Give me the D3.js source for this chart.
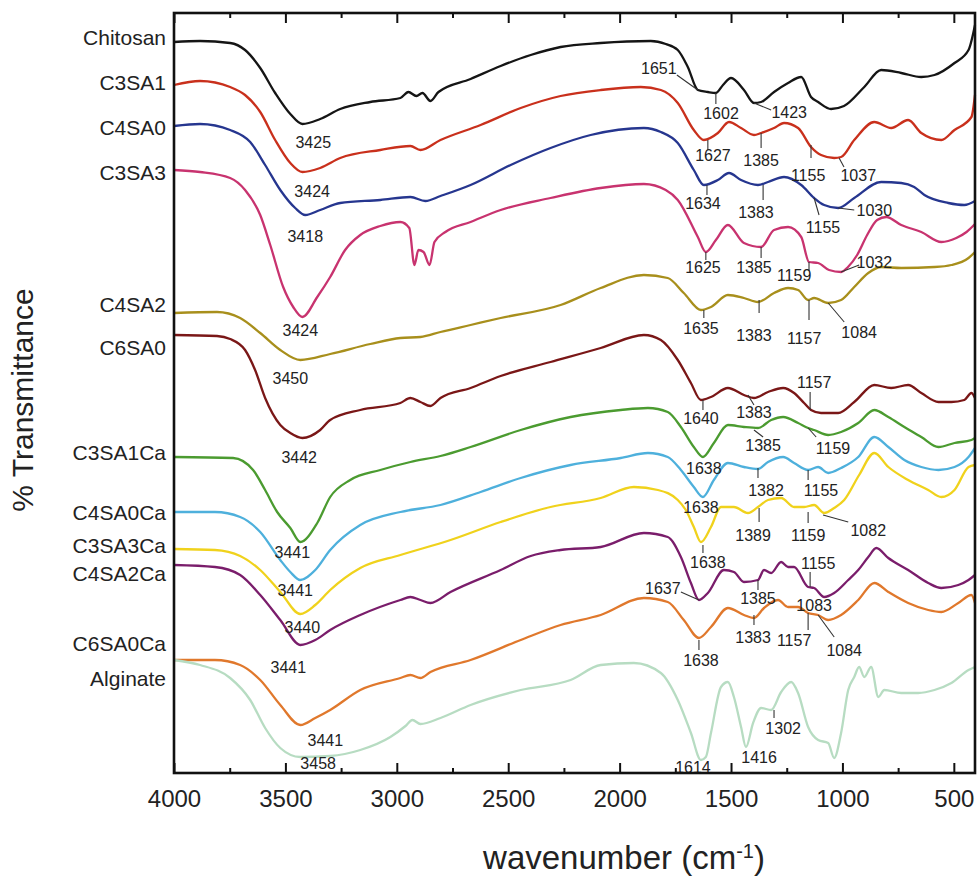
<!DOCTYPE html>
<html><head><meta charset="utf-8">
<script src="https://cdn.jsdelivr.net/npm/d3@7/dist/d3.min.js"></script>
<style>body{margin:0;background:#fff}svg{display:block}</style>
</head><body>
<svg id="chart" width="980" height="888"></svg>
<script>
// ---- data (wavenumber cm-1, % transmittance in offset plot units) ----
const seriesNames = ["Chitosan","C3SA1","C4SA0","C3SA3","C4SA2","C6SA0","C3SA1Ca","C4SA0Ca","C3SA3Ca","C4SA2Ca","C6SA0Ca","Alginate"];
const seriesColors = ["#151515","#c9301c","#26368f","#c8336f","#a88f1c","#7a1717","#4b9b30","#4eb0dc","#f0d21c","#7a1d6b","#e0782c","#b7dcc2"];
const labelLevels = [73.6,69.1,64.6,60.1,46.9,42.6,32.1,26.1,22.8,20.0,13.0,9.5];

const chitosan = [[4000,73.1],[3883,73.2],[3748,73.0],[3681,72.3],[3613,70.5],[3546,68.0],[3478,65.9],[3424,64.9],[3344,65.4],[3254,66.4],[3119,67.1],[2984,67.5],[2948,68.1],[2912,67.7],[2885,68.0],[2849,67.2],[2813,68.1],[2669,69.4],[2534,70.7],[2399,71.8],[2265,72.6],[2085,73.0],[1860,73.2],[1793,72.9],[1739,72.3],[1694,70.6],[1649,68.3],[1604,68.1],[1568,68.0],[1536,68.8],[1500,69.5],[1442,68.3],[1397,67.0],[1365,67.1],[1307,68.1],[1244,69.0],[1185,69.6],[1141,67.6],[1109,67.1],[1051,66.4],[993,66.7],[902,68.6],[826,70.3],[736,70.0],[646,69.6],[587,69.8],[497,71.0],[434,72.3],[405,74.8]];
const c3sa1 = [[4000,68.8],[3883,69.2],[3748,68.6],[3681,67.8],[3613,66.1],[3546,63.3],[3478,61.0],[3424,60.1],[3344,60.5],[3254,61.5],[3074,62.3],[2939,62.7],[2894,62.3],[2804,63.3],[2624,64.8],[2444,66.5],[2265,67.7],[2085,68.3],[1905,68.6],[1815,68.3],[1739,67.0],[1667,64.3],[1622,63.3],[1559,64.0],[1509,65.1],[1455,64.5],[1397,63.8],[1365,64.0],[1307,64.5],[1262,65.0],[1199,64.5],[1141,62.6],[1096,61.8],[1037,61.5],[1006,61.6],[947,63.3],[857,65.1],[781,64.5],[705,65.3],[646,64.0],[556,63.3],[497,64.3],[421,65.6],[405,67.8]];
const c4sa0 = [[4000,64.7],[3883,64.9],[3748,64.3],[3658,63.1],[3591,60.8],[3523,58.3],[3456,56.5],[3411,55.8],[3344,56.3],[3254,57.0],[3074,57.3],[2939,57.6],[2872,57.2],[2804,57.7],[2669,58.8],[2489,60.8],[2310,62.5],[2130,63.8],[1891,64.5],[1815,64.1],[1739,63.0],[1667,60.3],[1622,58.8],[1559,59.3],[1509,60.0],[1455,59.3],[1379,58.8],[1334,59.1],[1262,59.6],[1185,58.8],[1127,57.5],[1082,56.8],[1019,56.5],[947,57.5],[826,59.1],[736,59.0],[678,58.6],[632,57.8],[525,57.0],[453,56.8],[405,57.2]];
const c3sa3 = [[4000,60.3],[3883,60.1],[3748,59.5],[3681,58.3],[3613,55.8],[3568,52.8],[3510,48.6],[3465,46.6],[3424,45.6],[3357,47.6],[3299,49.6],[3232,52.3],[3164,53.8],[3074,54.7],[2984,55.1],[2944,54.5],[2921,50.8],[2903,52.3],[2880,52.1],[2853,50.8],[2831,53.1],[2782,54.1],[2669,55.1],[2534,56.3],[2310,57.5],[2085,58.5],[1891,58.9],[1793,58.3],[1739,57.3],[1649,53.6],[1613,52.1],[1568,53.3],[1514,54.8],[1442,53.0],[1365,52.6],[1307,54.3],[1244,54.6],[1185,53.6],[1150,51.1],[1109,51.0],[1060,50.3],[1006,50.1],[975,50.6],[934,51.8],[889,53.8],[844,55.3],[803,55.6],[736,54.8],[646,54.1],[556,53.1],[489,53.5],[443,54.1],[405,54.9]];
const c4sa2 = [[4000,46.0],[3807,46.1],[3703,45.5],[3613,44.0],[3523,42.3],[3433,41.3],[3299,41.9],[3119,42.9],[2984,43.5],[2894,43.6],[2804,44.1],[2669,44.8],[2534,45.5],[2265,46.8],[2085,48.5],[1891,49.8],[1784,49.5],[1712,48.0],[1635,46.3],[1590,46.6],[1514,47.8],[1442,47.5],[1379,47.1],[1307,48.0],[1244,48.5],[1199,48.3],[1154,47.3],[1127,47.5],[1064,47.0],[1006,47.3],[947,48.6],[884,50.0],[826,50.6],[736,50.5],[587,50.6],[511,50.8],[434,51.5],[405,52.1]];
const c6sa0 = [[4000,43.8],[3807,43.7],[3748,43.4],[3681,42.3],[3636,40.3],[3591,37.5],[3523,34.8],[3478,34.0],[3424,33.5],[3344,34.3],[3299,35.3],[3164,36.3],[2984,37.0],[2939,37.5],[2894,37.1],[2849,36.7],[2804,37.5],[2669,38.5],[2534,39.7],[2310,41.1],[2085,42.5],[1891,43.8],[1815,43.3],[1739,41.3],[1680,39.0],[1635,37.3],[1590,37.6],[1514,38.5],[1442,37.8],[1397,37.5],[1334,38.1],[1266,38.5],[1217,38.0],[1172,37.0],[1141,36.3],[1096,36.0],[1019,36.0],[947,37.1],[857,38.8],[781,38.5],[705,38.8],[646,38.0],[569,37.1],[511,37.1],[453,37.3],[421,38.0],[405,37.5]];
const c3sa1ca = [[4000,31.6],[3735,31.5],[3645,30.3],[3591,28.3],[3537,26.1],[3478,24.5],[3433,23.1],[3357,25.0],[3299,27.6],[3209,29.3],[3074,30.3],[2939,31.1],[2804,31.7],[2669,32.6],[2444,34.3],[2220,35.6],[1995,36.3],[1873,36.5],[1784,36.1],[1725,34.6],[1667,32.6],[1626,31.6],[1577,33.0],[1514,34.8],[1442,34.6],[1379,34.5],[1320,35.3],[1266,35.6],[1199,35.0],[1154,34.5],[1127,34.3],[1064,33.8],[1006,34.1],[929,35.0],[857,36.3],[794,35.6],[722,34.6],[646,33.6],[569,32.6],[497,33.0],[421,33.3],[405,33.5]];
const c4sa0ca = [[4000,26.1],[3816,26.1],[3703,25.6],[3613,24.1],[3523,21.3],[3478,20.1],[3433,19.3],[3366,20.3],[3299,22.3],[3164,24.8],[2984,26.1],[2804,26.8],[2624,28.1],[2444,29.5],[2220,30.8],[1995,31.5],[1873,32.0],[1784,31.6],[1725,30.3],[1667,28.6],[1626,27.6],[1577,29.3],[1514,31.0],[1442,30.6],[1379,30.4],[1334,31.1],[1266,31.6],[1217,31.0],[1154,30.3],[1109,30.6],[1064,30.0],[1006,30.5],[929,31.6],[857,33.6],[794,32.6],[722,31.3],[646,30.6],[569,30.3],[497,30.6],[434,31.6],[405,32.5]];
const c3sa3ca = [[4000,22.4],[3816,22.3],[3703,21.7],[3613,20.3],[3523,18.1],[3433,15.9],[3366,16.8],[3299,18.3],[3164,20.5],[2984,21.8],[2759,23.3],[2534,25.1],[2310,26.6],[2085,27.5],[1936,28.6],[1828,28.3],[1739,27.3],[1703,26.3],[1667,24.6],[1635,23.1],[1590,24.6],[1545,26.6],[1487,26.6],[1424,26.0],[1379,26.6],[1334,27.3],[1275,27.5],[1217,26.6],[1172,26.6],[1127,26.8],[1082,26.0],[1037,26.5],[992,27.3],[925,29.8],[857,32.0],[794,30.6],[705,29.3],[615,28.3],[556,27.6],[497,28.3],[434,30.6],[405,30.8]];
const c4sa2ca = [[4000,20.8],[3816,20.6],[3703,19.8],[3613,17.8],[3523,15.3],[3433,12.8],[3366,13.3],[3299,14.3],[3164,15.8],[2984,17.3],[2939,17.6],[2894,17.3],[2849,17.0],[2759,18.1],[2534,20.3],[2399,21.7],[2265,22.3],[2085,22.6],[1891,24.0],[1784,23.6],[1725,21.6],[1680,19.0],[1644,17.3],[1604,18.0],[1532,20.3],[1487,20.1],[1442,19.1],[1379,19.3],[1352,20.3],[1320,20.0],[1275,21.1],[1244,20.6],[1217,20.6],[1154,18.6],[1127,18.5],[1082,17.6],[1037,18.0],[974,19.3],[929,20.3],[884,21.6],[848,22.5],[794,21.5],[705,20.3],[615,19.0],[556,18.5],[480,18.8],[434,19.3],[405,19.8]];
const c6sa0ca = [[4000,11.3],[3816,11.3],[3703,10.8],[3613,9.3],[3523,6.8],[3433,4.8],[3366,5.5],[3299,6.3],[3164,8.3],[2984,9.5],[2939,9.8],[2894,9.5],[2849,10.1],[2669,11.3],[2444,13.3],[2265,14.8],[2085,15.8],[1891,17.5],[1784,17.1],[1712,15.3],[1644,13.5],[1590,14.6],[1514,16.5],[1442,15.8],[1397,15.5],[1352,16.5],[1289,17.3],[1244,16.6],[1199,16.6],[1154,16.0],[1109,15.8],[1064,15.3],[1006,15.8],[929,17.3],[857,19.0],[794,18.1],[705,17.0],[615,16.3],[556,16.1],[480,17.0],[421,17.8],[405,17.0]];
const alginate = [[4000,11.3],[3883,10.8],[3748,9.5],[3658,7.3],[3591,4.5],[3523,2.5],[3433,1.6],[3299,1.7],[3164,2.3],[3029,3.6],[2961,4.7],[2930,5.3],[2894,4.9],[2804,5.5],[2669,6.8],[2444,8.3],[2220,9.3],[2085,10.8],[1936,11.0],[1815,10.0],[1739,7.3],[1680,4.0],[1635,1.3],[1613,1.6],[1590,4.0],[1545,8.6],[1514,9.1],[1487,7.6],[1455,4.6],[1433,2.6],[1401,5.0],[1365,6.5],[1320,6.3],[1275,8.1],[1230,9.1],[1199,8.0],[1154,4.6],[1109,3.3],[1064,3.0],[1037,1.5],[1006,4.0],[974,8.3],[947,9.6],[925,10.6],[902,9.6],[871,10.6],[839,7.6],[812,8.3],[736,8.0],[660,8.0],[587,8.3],[511,9.0],[434,10.3],[405,10.6]];
const seriesData = [chitosan,c3sa1,c4sa0,c3sa3,c4sa2,c6sa0,c3sa1ca,c4sa0ca,c3sa3ca,c4sa2ca,c6sa0ca,alginate];

const majorTicks = [4000,3500,3000,2500,2000,1500,1000,500];
const minorTicks = [3750,3250,2750,2250,1750,1250,750];

// peak annotations: [text, wavenumber, level]
const peakLabels = [
 ["3425",3375,63.1],["1651",1824,70.5],["1602",1545,66.0],["1423",1239,66.1],
 ["3424",3380,58.2],["1627",1581,61.8],["1385",1365,61.3],["1155",1154,59.8],["1037",929,59.8],
 ["3418",3411,53.7],["1634",1626,57.0],["1383",1388,56.1],["1155",1087,54.6],["1030",857,56.3],
 ["3424",3433,44.3],["1625",1626,50.6],["1385",1397,50.6],["1159",1217,49.8],["1032",857,51.1],
 ["3450",3478,39.5],["1635",1635,44.5],["1383",1397,43.8],["1157",1172,43.5],["1084",925,44.1],
 ["3442",3438,31.6],["1640",1635,35.5],["1383",1397,36.1],["1157",1127,39.1],
 ["3441",3469,22.1],["1638",1622,30.5],["1385",1356,32.8],["1159",1042,32.5],
 ["3441",3456,18.3],["1638",1635,26.6],["1382",1343,28.3],["1155",1096,28.3],
 ["3440",3424,14.6],["1638",1604,21.1],["1389",1401,23.8],["1159",1154,23.8],["1082",884,24.3],
 ["3441",3487,10.6],["1637",1806,18.5],["1385",1379,17.5],["1155",1109,21.0],["1083",1127,16.8],
 ["3441",3321,3.3],["1638",1635,11.3],["1383",1401,13.6],["1157",1217,13.3],["1084",992,12.3],
 ["3458",3353,1.0],["1614",1671,0.6],["1416",1374,1.6],["1302",1266,4.5]
];
// leader lines: [wn1, level1, wn2, level2]
const leaderLines = [
 [1743,69.8,1649,68.3],[1568,68.0,1568,66.9],[1397,67.0,1320,66.3],
 [1604,63.3,1604,62.3],[1365,64.0,1365,62.5],[1141,62.8,1141,61.5],[1015,61.5,993,60.6],
 [1608,58.8,1608,57.8],[1356,58.8,1356,57.3],[1127,57.5,1105,55.8],[1019,56.5,947,56.3],
 [1613,52.1,1613,51.3],[1365,52.6,1365,51.5],[1150,51.1,1150,50.2],[1006,50.1,925,50.8],
 [1622,46.3,1622,45.5],[1374,47.3,1374,46.0],[1150,47.3,1150,45.3],[1064,47.0,992,45.1],
 [1626,37.3,1626,36.3],[1424,37.8,1397,36.8],[1145,38.1,1145,36.3],
 [1397,34.3,1356,33.6],[1154,34.5,1118,33.6],
 [1379,30.5,1379,29.5],[1154,30.3,1154,29.3],
 [1626,22.8,1626,22.0],[1374,26.5,1374,25.1],[1154,26.1,1154,25.0],[1087,25.8,974,25.1],
 [1725,18.1,1644,17.3],[1379,19.3,1379,18.3],[1145,20.1,1145,18.6],
 [1644,13.3,1644,12.3],[1397,15.8,1397,14.8],[1154,16.0,1154,14.3],[1109,15.8,1037,13.6],
 [1307,6.3,1307,5.5]
];

// ---- drawing ----
(function(){
const FONT = "'Liberation Sans', Arial, Helvetica, sans-serif";
const svg = d3.select("#chart").style("font-family", FONT);
svg.append("rect").attr("width",980).attr("height",888).attr("fill","#fff");

const x = d3.scaleLinear().domain([4000,405]).range([174,975]);
const y = d3.scaleLinear().domain([0,76]).range([773,13]);

const line = d3.line().x(d => x(d[0])).y(d => y(d[1])).curve(d3.curveMonotoneX);

const plot = svg.append("g");
seriesData.forEach((s,i) => {
  plot.append("path").datum(s).attr("d", line)
    .attr("fill","none").attr("stroke", seriesColors[i])
    .attr("stroke-width", 2.3).attr("stroke-linejoin","round");
});

svg.append("g").selectAll("line").data(leaderLines).join("line")
  .attr("x1", d => x(d[0])).attr("y1", d => y(d[1]))
  .attr("x2", d => x(d[2])).attr("y2", d => y(d[3]))
  .attr("stroke","#333").attr("stroke-width",1.1);

svg.append("g").selectAll("text").data(peakLabels).join("text")
  .attr("x", d => x(d[1])).attr("y", d => y(d[2]))
  .attr("dy","0.36em").attr("text-anchor","middle")
  .attr("font-size", 16).attr("fill","#222").text(d => d[0]);

svg.append("g").selectAll("text").data(seriesNames).join("text")
  .attr("x", 166).attr("y", (d,i) => y(labelLevels[i]))
  .attr("dy","0.36em").attr("text-anchor","end")
  .attr("font-size", 21).attr("fill","#222").text(d => d);

const bottomAx = svg.append("g").attr("transform","translate(0,773)");
bottomAx.call(d3.axisBottom(x).tickValues(majorTicks).tickSize(-10).tickPadding(17).tickFormat(d3.format("d")));
bottomAx.append("g").call(d3.axisBottom(x).tickValues(minorTicks).tickSize(-5).tickFormat(""));
bottomAx.selectAll(".domain").remove();
bottomAx.selectAll("text").attr("font-size",24).attr("font-family",FONT).attr("fill","#222");
bottomAx.selectAll("line").attr("stroke","#111").attr("stroke-width",2);

const topAx = svg.append("g").attr("transform","translate(0,13)");
topAx.call(d3.axisTop(x).tickValues(majorTicks).tickSize(-10).tickFormat(""));
topAx.append("g").call(d3.axisTop(x).tickValues(minorTicks).tickSize(-5).tickFormat(""));
topAx.selectAll(".domain").remove();
topAx.selectAll("line").attr("stroke","#111").attr("stroke-width",2);

svg.append("rect").attr("x",x(4000)).attr("y",y(76))
  .attr("width", x(405)-x(4000)).attr("height", y(0)-y(76))
  .attr("fill","none").attr("stroke","#111").attr("stroke-width",2.6);

svg.append("text").attr("transform","translate(33,400) rotate(-90)")
  .attr("text-anchor","middle").attr("font-size",30).attr("fill","#222")
  .text("% Transmittance");
const xt = svg.append("text").attr("x",624).attr("y",869)
  .attr("text-anchor","middle").attr("font-size",33).attr("fill","#222");
xt.append("tspan").text("wavenumber (cm");
xt.append("tspan").attr("baseline-shift","super").attr("font-size",20).text("-1");
xt.append("tspan").text(")");
})();
</script>
</body></html>
